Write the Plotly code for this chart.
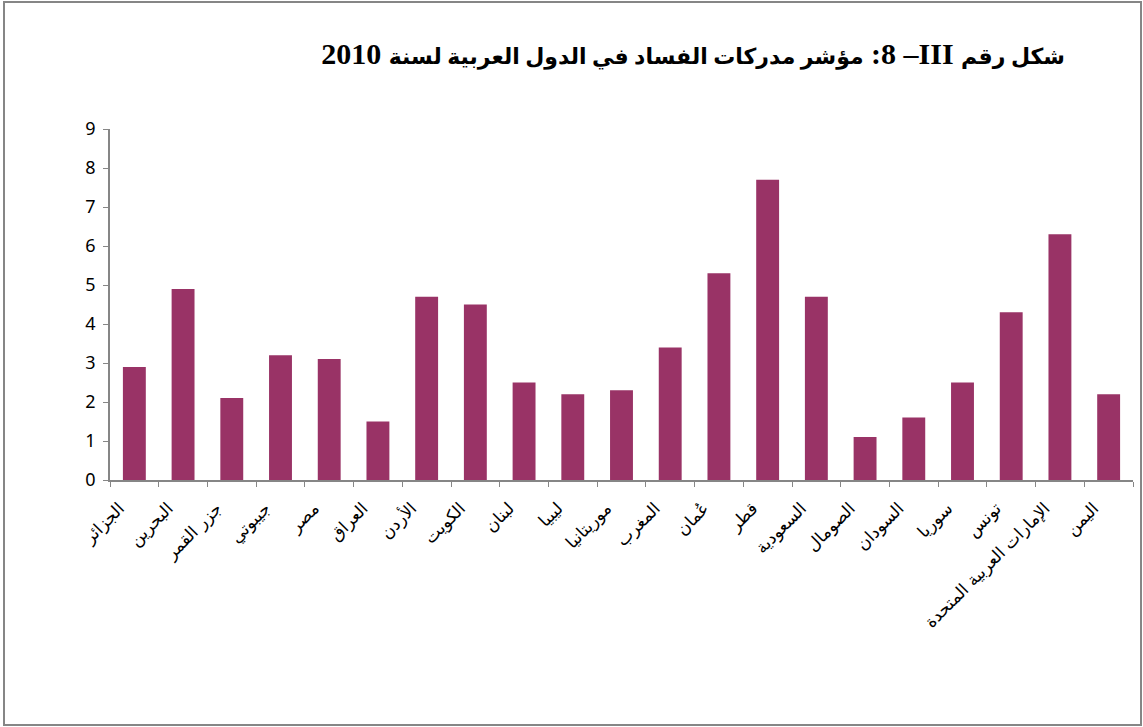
import plotly.graph_objects as go

countries = ["الجزائر", "البحرين", "جزر القمر", "جيبوتي", "مصر", "العراق", "الأردن",
             "الكويت", "لبنان", "ليبيا", "موريتانيا", "المغرب", "عُمان", "قطر",
             "السعودية", "الصومال", "السودان", "سوريا", "تونس",
             "الإمارات العربية المتحدة", "اليمن"]
cpi_2010 = [2.9, 4.9, 2.1, 3.2, 3.1, 1.5, 4.7, 4.5, 2.5, 2.2, 2.3, 3.4, 5.3, 7.7,
            4.7, 1.1, 1.6, 2.5, 4.3, 6.3, 2.2]
y_ticks = [0, 1, 2, 3, 4, 5, 6, 7, 8, 9]

AR = "<span style='font-size:22px'>{}</span>"
title_text = (AR.format("\u202Bشكل رقم") + " III\u200F– 8: "
              + AR.format("مؤشر مدركات الفساد في الدول العربية لسنة") + " 2010\u202C")

W, H = 1143, 727
ml, mr, mt, mb = 110, 10, 129, 247
pw, ph = W - ml - mr, H - mt - mb

fig = go.Figure(go.Bar(
    x=countries, y=cpi_2010,
    marker=dict(color="#993366", line=dict(width=0)),
    width=0.47,
))

fig.update_layout(
    width=W, height=H,
    margin=dict(l=ml, r=mr, t=mt, b=mb),
    paper_bgcolor="white", plot_bgcolor="white",
    showlegend=False,
    title=dict(
        text=title_text,
        x=1065 / W, xanchor="right", xref="container",
        y=1 - 53 / H, yanchor="middle", yref="container",
        font=dict(family="Liberation Serif, DejaVu Sans", size=30, color="black", weight="bold"),
    ),
    xaxis=dict(
        type="category",
        tickangle=-45,
        tickson="boundaries",
        ticks="outside", ticklen=5, tickcolor="#868686",
        showline=True, linecolor="#868686", linewidth=1.5,
        showgrid=False,
        tickfont=dict(family="DejaVu Sans, Arial", size=17, color="black"),
        ticklabelstandoff=10, ticklabelshift=-15,
        automargin=False,
    ),
    yaxis=dict(
        range=[0, 9],
        tickvals=y_ticks,
        ticks="outside", ticklen=5, tickcolor="#868686",
        showline=True, linecolor="#868686", linewidth=1.5,
        showgrid=False, zeroline=False,
        tickfont=dict(family="Noto Sans, Open Sans", size=18, color="black"),
        ticklabelstandoff=4,
        automargin=False,
    ),
    shapes=[dict(
        type="rect", xref="paper", yref="paper",
        x0=(4 - ml) / pw, x1=(1141 - ml) / pw,
        y0=-(725 - (H - mb)) / ph, y1=((H - mb) - 2) / ph,
        line=dict(color="#868686", width=2), fillcolor="rgba(0,0,0,0)",
        layer="below",
    )],
)

fig.write_html("out.html", config={"displayModeBar": False},
               post_script="document.body.style.margin='0';")
